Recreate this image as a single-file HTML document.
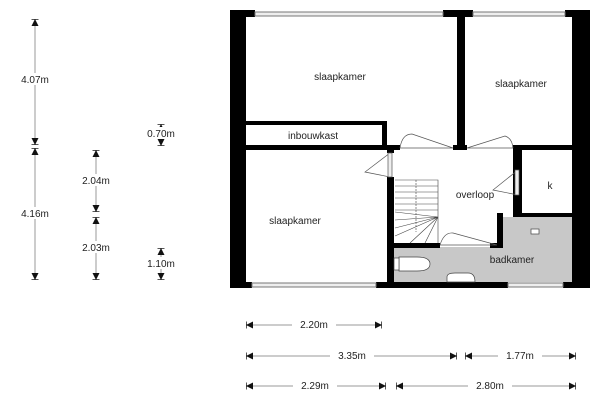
<!DOCTYPE html>
<html><head><style>body{margin:0;background:#fff}svg{display:block}text{font-family:"Liberation Sans",sans-serif;font-size:10px;fill:#222}</style></head><body>
<svg width="600" height="400" viewBox="0 0 600 400">
<defs>
<marker id="a" viewBox="0 0 10 10" refX="10" refY="5" markerWidth="7" markerHeight="7" orient="auto-start-reverse"><path d="M0,0L10,5L0,10z" fill="#111"/><path d="M10,0V10" stroke="#111" stroke-width="2"/></marker>
</defs>
<!-- floors -->
<rect x="503" y="217" width="72" height="65" fill="#c8c8c8"/>
<rect x="394" y="247" width="181" height="35" fill="#c8c8c8"/>
<!-- walls -->
<g fill="#000">
<rect x="230" y="10" width="16" height="278"/>
<rect x="572" y="10" width="18" height="278"/>
<rect x="230" y="10" width="25" height="7"/>
<rect x="443" y="10" width="30" height="7"/>
<rect x="565" y="10" width="25" height="7"/>
<rect x="230" y="282" width="22" height="6"/>
<rect x="376" y="282" width="132" height="6"/>
<rect x="563" y="282" width="27" height="6"/>
<rect x="457" y="17" width="8" height="132"/>
<rect x="246" y="121" width="141" height="4"/>
<rect x="382" y="121" width="5" height="29"/>
<rect x="246" y="145" width="154" height="5"/>
<rect x="453" y="145" width="14" height="5"/>
<rect x="513" y="145" width="77" height="5"/>
<rect x="513" y="148" width="9" height="67"/>
<rect x="513" y="213" width="77" height="4"/>
<rect x="387" y="148" width="7" height="5"/>
<rect x="387" y="177" width="7" height="108"/>
<rect x="497" y="213" width="6" height="35"/>
<rect x="394" y="243" width="46" height="5"/>
<rect x="490" y="243" width="13" height="5"/>
</g>
<!-- windows -->
<g fill="#eee" stroke="#777" stroke-width="1">
<rect x="255" y="12" width="188" height="4"/>
<rect x="473" y="12" width="92" height="4"/>
<rect x="252" y="283" width="124" height="4"/>
<rect x="508" y="283" width="55" height="4"/>
</g>
<!-- doors -->
<g fill="none" stroke="#555" stroke-width="0.7">
<path d="M400,148 L453,148 M400,148 Q402,134 412,134 L453,148"/>
<path d="M467,148 L513,148 M467,148 L505,136 Q512,138 513,148"/>
<path d="M390,153 V177 M390,153 L365,172 L390,177"/>
<path d="M518,170 V195 M518,170 L493,190 L518,195"/>
<path d="M440,245 H497 M440,245 Q444,232 453,233 L497,245"/>
<rect x="388" y="153" width="4" height="24" fill="#eee"/>
<rect x="515" y="170" width="4" height="25" fill="#eee"/>
</g>
<!-- stairs -->
<g stroke="#444" stroke-width="0.6" fill="none">
<path d="M395,180 H438 V243"/>
<path d="M395,186H438M395,192H438M395,198H438M395,204H438M395,210H438"/>
<path d="M438,217 L395,212 M438,217 L395,220 M438,217 L395,228 M438,217 L395,236 M438,217 L410,243 M438,217 L425,243"/>
<path d="M416,180 V232" stroke-dasharray="2,1"/>
</g>
<!-- fixtures -->
<g fill="#fff" stroke="#444" stroke-width="0.7">
<path d="M399,257 H417 Q430,257 430,264 Q430,271 417,271 H399 Z"/>
<rect x="394" y="258" width="5" height="12"/>
<path d="M447,282 V277 Q447,273 455,273 H468 Q475,273 475,282 Z"/>
<rect x="531" y="229" width="8" height="5"/>
</g>
<!-- labels -->
<text x="340" y="80" text-anchor="middle">slaapkamer</text>
<text x="521" y="87" text-anchor="middle">slaapkamer</text>
<text x="295" y="224" text-anchor="middle">slaapkamer</text>
<text x="313" y="139" text-anchor="middle">inbouwkast</text>
<text x="475" y="198" text-anchor="middle">overloop</text>
<text x="550" y="189" text-anchor="middle">k</text>
<text x="512" y="263" text-anchor="middle">badkamer</text>
<!-- dims -->
<g stroke="#999" stroke-width="1" marker-start="url(#a)" marker-end="url(#a)">
<line x1="35" y1="19" x2="35" y2="145"/>
<line x1="35" y1="148" x2="35" y2="280"/>
<line x1="96" y1="150" x2="96" y2="212"/>
<line x1="96" y1="217" x2="96" y2="280"/>
<line x1="161" y1="124" x2="161" y2="146"/>
<line x1="161" y1="248" x2="161" y2="280"/>
<line x1="246" y1="325" x2="382" y2="325"/>
<line x1="246" y1="356" x2="457" y2="356"/>
<line x1="465" y1="356" x2="576" y2="356"/>
<line x1="246" y1="386" x2="386" y2="386"/>
<line x1="396" y1="386" x2="576" y2="386"/>
</g>
<g>
<rect x="14" y="73" width="42" height="12" fill="#fff"/><text x="35" y="83" text-anchor="middle">4.07m</text>
<rect x="14" y="207" width="42" height="12" fill="#fff"/><text x="35" y="217" text-anchor="middle">4.16m</text>
<rect x="75" y="174" width="42" height="12" fill="#fff"/><text x="96" y="184" text-anchor="middle">2.04m</text>
<rect x="75" y="241" width="42" height="12" fill="#fff"/><text x="96" y="251" text-anchor="middle">2.03m</text>
<rect x="140" y="127" width="42" height="12" fill="#fff"/><text x="161" y="137" text-anchor="middle">0.70m</text>
<rect x="140" y="257" width="42" height="12" fill="#fff"/><text x="161" y="267" text-anchor="middle">1.10m</text>
<rect x="292" y="319" width="44" height="12" fill="#fff"/><text x="314" y="328" text-anchor="middle">2.20m</text>
<rect x="330" y="350" width="44" height="12" fill="#fff"/><text x="352" y="359" text-anchor="middle">3.35m</text>
<rect x="498" y="350" width="44" height="12" fill="#fff"/><text x="520" y="359" text-anchor="middle">1.77m</text>
<rect x="293" y="380" width="44" height="12" fill="#fff"/><text x="315" y="389" text-anchor="middle">2.29m</text>
<rect x="468" y="380" width="44" height="12" fill="#fff"/><text x="490" y="389" text-anchor="middle">2.80m</text>
</g>
</svg>
</body></html>
